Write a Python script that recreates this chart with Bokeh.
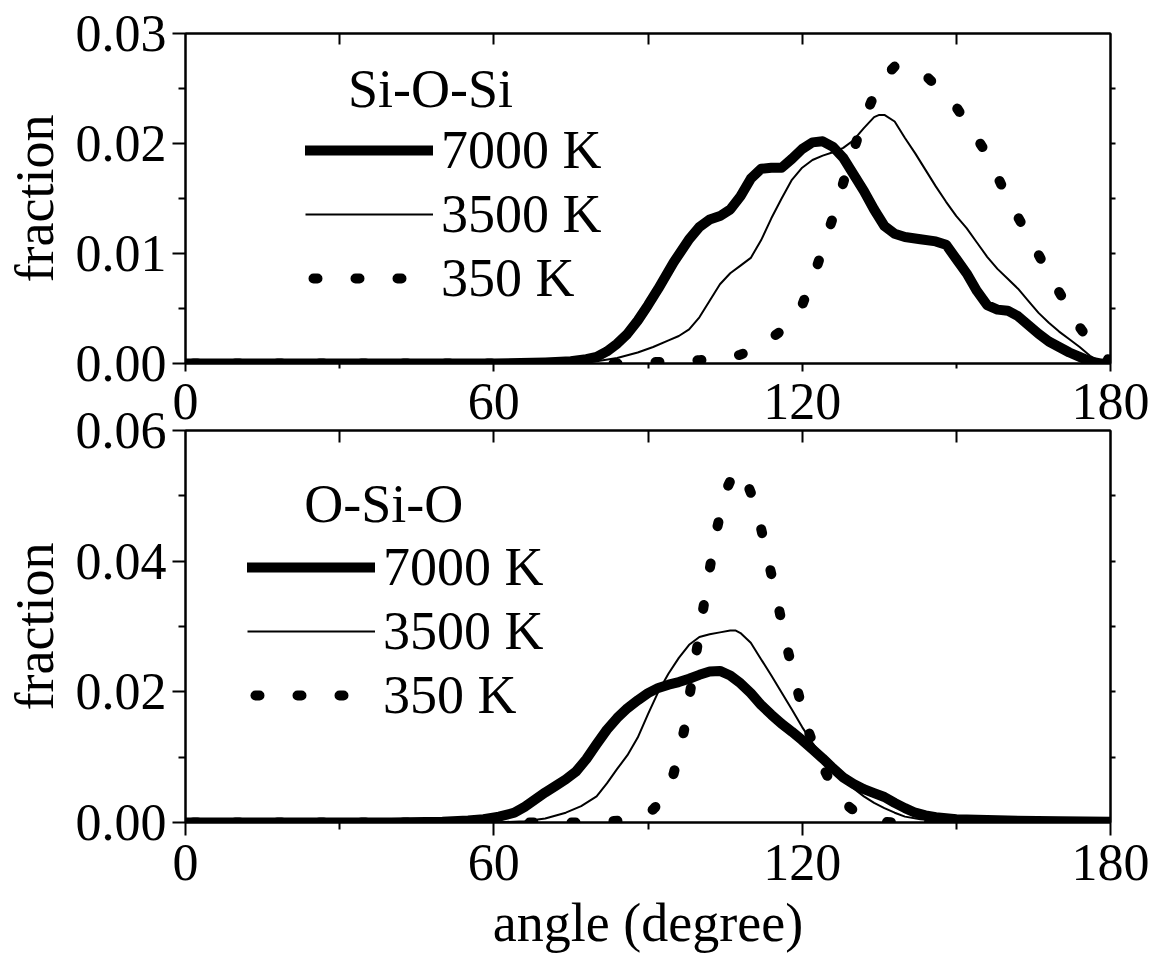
from bokeh.plotting import figure
from bokeh.models import (Range1d, LinearAxis, FixedTicker, PrintfTickFormatter,
                          Legend, LegendItem, Label)
from bokeh.layouts import column
from bokeh.embed import file_html
from bokeh.resources import INLINE

FONT = "Liberation Serif"

# ---------------- data: Si-O-Si (top panel) ----------------
sios_7000_x = [0, 60, 70, 75, 78, 80, 82, 84, 86, 88, 90, 92, 95, 98, 100, 102, 104, 106, 108, 110,
               112, 114, 116, 118, 120, 122, 124, 126, 128, 130, 132, 134, 136, 138, 140, 143, 146,
               148, 150, 152, 154, 156, 158, 160, 162, 164, 166, 168, 170, 172, 174, 176, 178, 180]
sios_7000_y = [0, 0, 0.0001, 0.0002, 0.0004, 0.0006, 0.0011, 0.0018, 0.0027, 0.0039, 0.0053, 0.0068,
               0.0092, 0.0113, 0.0124, 0.0131, 0.0134, 0.0140, 0.0152, 0.0168, 0.0177, 0.0178, 0.0178,
               0.0186, 0.0195, 0.0201, 0.0202, 0.0197, 0.0187, 0.0172, 0.0157, 0.0140, 0.0125, 0.0118,
               0.0115, 0.0113, 0.0111, 0.0108, 0.0095, 0.0082, 0.0066, 0.0053, 0.0049, 0.0048, 0.0043,
               0.0035, 0.0027, 0.0020, 0.0015, 0.0010, 0.0006, 0.0002, 0.0, 0.0]

sios_3500_x = [0, 70, 76, 80, 84, 88, 91, 94, 96, 98, 100, 102, 104, 106, 108, 110, 112, 114, 116,
               118, 120, 122, 124, 126, 128, 130, 132, 134, 135, 136, 138, 140, 142, 144, 146, 148,
               150, 152, 154, 156, 158, 160, 162, 164, 166, 168, 170, 172, 174, 176, 178, 180]
sios_3500_y = [0, 0, 0.0001, 0.0002, 0.0005, 0.0010, 0.0015, 0.0021, 0.0025, 0.0031, 0.0042, 0.0057,
               0.0072, 0.0082, 0.0089, 0.0096, 0.0112, 0.0132, 0.0150, 0.0167, 0.0178, 0.0185, 0.0189,
               0.0192, 0.0196, 0.0203, 0.0214, 0.0224, 0.0226, 0.0226, 0.0220, 0.0205, 0.0191, 0.0176,
               0.0161, 0.0147, 0.0134, 0.0123, 0.0110, 0.0097, 0.0086, 0.0077, 0.0068, 0.0057, 0.0046,
               0.0037, 0.0029, 0.0022, 0.0015, 0.0007, 0.0002, 0.0]

sios_350_x = [0, 80, 85, 90, 95, 100, 104, 108, 112, 116, 120, 123, 126, 129, 132, 135, 138, 141,
              144, 147, 150, 153, 156, 159, 162, 165, 168, 171, 174, 177, 180]
sios_350_y = [0, 0, 0, 0.0001, 0.0002, 0.0003, 0.0004, 0.0008, 0.0016, 0.0030, 0.0053, 0.0090,
              0.0133, 0.0180, 0.0222, 0.0255, 0.0270, 0.0271, 0.0262, 0.0248, 0.0233, 0.0212, 0.0190,
              0.0160, 0.0133, 0.0108, 0.0081, 0.0057, 0.0033, 0.0013, 0.0002]

# ---------------- data: O-Si-O (bottom panel) ----------------
osio_7000_x = [0, 40, 50, 55, 58, 61, 64, 66, 68, 70, 72, 74, 76, 78, 80, 82, 84, 86, 88, 90, 92,
               94, 96, 98, 100, 102, 104, 106, 108, 110, 112, 114, 116, 118, 120, 122, 124, 126, 128,
               130, 132, 134, 136, 138, 140, 142, 144, 146, 150, 160, 170, 180]
osio_7000_y = [0, 0, 0.0001, 0.0003, 0.0005, 0.0009, 0.0015, 0.0024, 0.0035, 0.0046, 0.0056, 0.0066,
               0.0078, 0.0097, 0.0120, 0.0142, 0.0160, 0.0175, 0.0187, 0.0198, 0.0206, 0.0211, 0.0215,
               0.0220, 0.0226, 0.0231, 0.0232, 0.0225, 0.0213, 0.0198, 0.0180, 0.0165, 0.0151, 0.0139,
               0.0126, 0.0112, 0.0098, 0.0083, 0.0069, 0.0059, 0.0051, 0.0045, 0.0039, 0.0030, 0.0022,
               0.0015, 0.0011, 0.0008, 0.0005, 0.0003, 0.0002, 0.0001]

osio_3500_x = [0, 60, 66, 70, 74, 77, 80, 82, 84, 86, 88, 90, 92, 94, 96, 98, 100, 102, 104, 106,
               107, 108, 110, 112, 114, 116, 118, 120, 122, 124, 126, 128, 130, 132, 134, 136, 138,
               140, 143, 146, 150, 160, 180]
osio_3500_y = [0, 0, 0.0002, 0.0006, 0.0015, 0.0025, 0.0040, 0.0060, 0.0082, 0.0103, 0.0130, 0.0166,
               0.0200, 0.0228, 0.0252, 0.0272, 0.0284, 0.0288, 0.0291, 0.0294, 0.0294, 0.0290, 0.0275,
               0.0250, 0.0225, 0.0199, 0.0173, 0.0146, 0.0122, 0.0100, 0.0083, 0.0066, 0.0052, 0.0040,
               0.0030, 0.0022, 0.0015, 0.0009, 0.0005, 0.0003, 0.0001, 0, 0]

osio_350_x = [0, 76, 78, 82, 86, 89, 91, 93, 95, 97, 99, 101, 103, 105, 107, 109, 111, 113, 115,
              117, 119, 121, 123, 125, 127, 129, 131, 133, 135, 140, 180]
osio_350_y = [0, 0, 0.0001, 0.0002, 0.0003, 0.0008, 0.0020, 0.0037, 0.0075, 0.0140, 0.0240, 0.0340,
              0.0435, 0.0505, 0.0540, 0.0525, 0.0485, 0.0415, 0.0345, 0.0270, 0.0205, 0.0145, 0.0100,
              0.0070, 0.0045, 0.0025, 0.0012, 0.0004, 0.0001, 0, 0]

series_labels = ["7000 K", "3500 K", "350 K"]
x_major = [0, 60, 120, 180]
x_minor = [30, 90, 150]

TICK_FS = "52px"
TITLE_FS = "54px"


def style_axis(ax, major_in=0, major_out=0, minor_in=0, minor_out=0, standoff=6):
    ax.axis_line_width = 2
    ax.axis_line_color = "black"
    ax.major_tick_line_width = 2
    ax.minor_tick_line_width = 2
    ax.major_tick_in = major_in
    ax.major_tick_out = major_out
    ax.minor_tick_in = minor_in
    ax.minor_tick_out = minor_out
    ax.major_label_text_font = FONT
    ax.major_label_text_font_size = TICK_FS
    ax.major_label_text_color = "black"
    ax.major_label_standoff = standoff
    ax.axis_label_text_font = FONT
    ax.axis_label_text_font_style = "normal"
    ax.axis_label_text_font_size = TITLE_FS
    ax.axis_label_text_color = "black"


def make_fig(height, ymax, border_top, border_bottom):
    p = figure(width=1150, height=height, x_range=Range1d(0, 180), y_range=Range1d(0, ymax),
               output_backend="svg", toolbar_location=None, x_axis_type=None, y_axis_type=None,
               min_border_left=185, min_border_right=40,
               min_border_top=border_top, min_border_bottom=border_bottom)
    p.outline_line_color = "black"
    p.outline_line_width = 2
    p.background_fill_color = "white"
    return p


def add_curves(p, data):
    r3 = p.line(data[2][0], data[2][1], line_color="black", line_width=10,
                line_dash="4 38", line_dash_offset=-8, line_cap="round")
    r2 = p.line(data[1][0], data[1][1], line_color="black", line_width=2, line_join="round")
    r1 = p.line(data[0][0], data[0][1], line_color="black", line_width=10,
                line_join="round", line_cap="round")
    return [r1, r2, r3]


def add_legend(p, renderers, loc):
    items = [LegendItem(label=lab, renderers=[r]) for lab, r in zip(series_labels, renderers)]
    leg = Legend(items=items, location=loc, padding=0, margin=0, spacing=2,
                 glyph_width=128, glyph_height=60, label_height=60, label_standoff=8,
                 label_text_font=FONT, label_text_font_size=TITLE_FS, label_text_color="black",
                 border_line_color=None, background_fill_alpha=0)
    p.add_layout(leg)


def y_axis(ticks, minor):
    ax = LinearAxis(ticker=FixedTicker(ticks=ticks, minor_ticks=minor),
                    formatter=PrintfTickFormatter(format="%.2f"), axis_label="fraction")
    style_axis(ax, major_out=13, minor_out=7, standoff=6)
    ax.axis_label_standoff = 8
    return ax


# ---------------- top panel ----------------
top = make_fig(453, 0.03, 33, 90)
top.border_fill_color = "white"
top.add_layout(y_axis([0, 0.01, 0.02, 0.03], [0.005, 0.015, 0.025]), "left")
below = LinearAxis(ticker=FixedTicker(ticks=x_major, minor_ticks=x_minor))
style_axis(below, major_out=8, minor_out=5, standoff=12)
top.add_layout(below, "below")
above = LinearAxis(ticker=FixedTicker(ticks=[], minor_ticks=[30, 60, 90, 120, 150]))
style_axis(above, minor_in=11)
top.add_layout(above, "above")
right = LinearAxis(ticker=FixedTicker(ticks=[], minor_ticks=[0.005, 0.01, 0.015, 0.02, 0.025]))
style_axis(right, minor_out=5)
top.add_layout(right, "right")

rt = add_curves(top, [(sios_7000_x, sios_7000_y), (sios_3500_x, sios_3500_y), (sios_350_x, sios_350_y)])
add_legend(top, rt, (120, 54))
top.add_layout(Label(x=31.6, y=0.0250, text="Si-O-Si", text_font=FONT, text_font_size=TITLE_FS,
                     text_baseline="alphabetic", text_align="left", text_color="black"))

# ---------------- bottom panel ----------------
bot = make_fig(560, 0.06, 35, 132)
bot.border_fill_color = None
bot.margin = (-58, 0, 0, 0)
bot.add_layout(y_axis([0, 0.02, 0.04, 0.06], [0.01, 0.03, 0.05]), "left")
below2 = LinearAxis(ticker=FixedTicker(ticks=x_major, minor_ticks=x_minor), axis_label="angle (degree)")
style_axis(below2, major_out=13, minor_out=7, standoff=9)
below2.axis_label_standoff = 10
bot.add_layout(below2, "below")
above2 = LinearAxis(ticker=FixedTicker(ticks=[], minor_ticks=x_major[1:3] + x_minor))
style_axis(above2, minor_in=12)
bot.add_layout(above2, "above")
right2 = LinearAxis(ticker=FixedTicker(ticks=[], minor_ticks=[0.01, 0.02, 0.03, 0.04, 0.05]))
style_axis(right2, minor_out=5)
bot.add_layout(right2, "right")

rb = add_curves(bot, [(osio_7000_x, osio_7000_y), (osio_3500_x, osio_3500_y), (osio_350_x, osio_350_y)])
add_legend(bot, rb, (62, 96))
bot.add_layout(Label(x=23.1, y=0.0487, text="O-Si-O", text_font=FONT, text_font_size=TITLE_FS,
                     text_baseline="alphabetic", text_align="left", text_color="black"))

layout = column(top, bot, spacing=0)
open("out.html", "w").write(file_html(layout, INLINE))
